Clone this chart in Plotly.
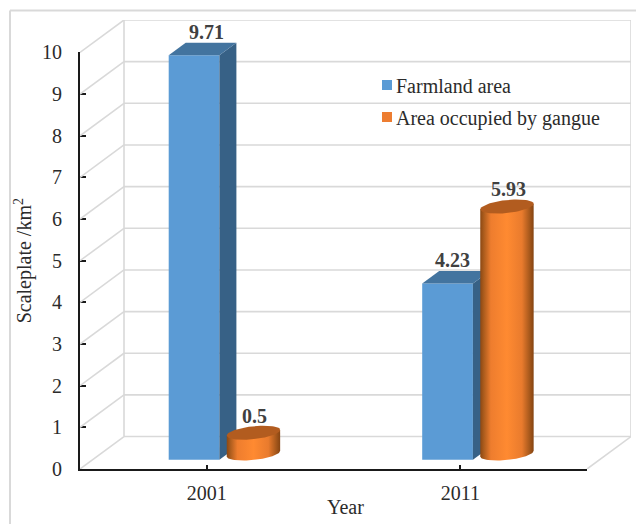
import numpy as np
import plotly.graph_objects as go

# Chart data
years = ["2001", "2011"]
farmland_area = [9.71, 4.23]
gangue_area = [0.5, 5.93]
y_ticks = [0, 1, 2, 3, 4, 5, 6, 7, 8, 9, 10]

FONT = "Liberation Serif, Times New Roman, serif"
TEXT = "#2B2B2B"
LABEL = "#404040"
GRID = "#D9D9D9"
AXIS = "#1A1A1A"
BLUE_FRONT = "#5B9BD5"
BLUE_SIDE = "#376186"
BLUE_TOP = "#43749F"
ORANGE_TOP = "#B25C1F"
ORANGE_SWATCH = "#ED7D31"
CYL_RAMP = [
    [0.0, "#8C4813"], [0.06, "#A85A1C"], [0.2, "#EE7D2E"], [0.5, "#FF8A31"],
    [0.78, "#E97B2D"], [0.92, "#A8591C"], [1.0, "#854412"],
]

W, H = 636, 524
X0, X1, Y0, Y1 = 80, 587, 469.5, 52   # pixel box of the front axis plane
BACK_DX, BACK_DY = 44, 32.5           # pixel depth of the chart box
PX = (X1 - X0) / 2                    # pixels per category
PY = (Y0 - Y1) / 10                   # pixels per value unit
WALL_DX = BACK_DX / PX
WALL_DY = BACK_DY / PY

positions = np.arange(len(years), dtype=float)
BOX_LEFT, BOX_RIGHT, BOX_TOP = -0.5, 1.5, 10

# Plot area spans the front plane plus the depth of the box
AREA_W = X1 + BACK_DX - X0
AREA_H = Y0 - (Y1 - BACK_DY)
DOMAIN_X = [0, (X1 - X0) / AREA_W]
DOMAIN_Y = [0, (Y0 - Y1) / AREA_H]


def paper_x(px):
    return (px - X0) / AREA_W


def paper_y(py):
    return (Y0 - py) / AREA_H


# Bars stand slightly inside the floor of the box
BAR_WIDTH = 50.7 / PX
BAR_SHIFT = -12.7 / PX
BAR_BASE = 9.2 / PY
BAR_DX = 17 / PX
BAR_DY = 12.6 / PY

# Cylinders
CYL_SHIFT = 46.7 / PX
CYL_RX = 26.7 / PX
CYL_RY = 6.5 / PY
CYL_TILT = 2.8 / PY
CYL_BASE = 15.5 / PY

LABEL_RISE = 0.78


def segments(pairs):
    xs, ys = [], []
    for (xa, ya), (xb, yb) in pairs:
        xs += [xa, xb, None]
        ys += [ya, yb, None]
    return xs, ys


fig = go.Figure()

# Legend entries live on the primary axes, which also carry the ticks and titles
for name, colour in [("Farmland area", BLUE_FRONT), ("Area occupied by gangue", ORANGE_SWATCH)]:
    fig.add_trace(go.Scatter(x=[None], y=[None], mode="markers", name=name, legendgroup=name,
                             marker=dict(symbol="square", size=10, color=colour, angle=90, standoff=11)))

# Box walls and gridlines
grid_pairs = []
for v in y_ticks:
    grid_pairs.append(((BOX_LEFT, v), (BOX_LEFT + WALL_DX, v + WALL_DY)))
    grid_pairs.append(((BOX_LEFT + WALL_DX, v + WALL_DY), (BOX_RIGHT + WALL_DX, v + WALL_DY)))
grid_pairs.append(((BOX_LEFT + WALL_DX, WALL_DY), (BOX_LEFT + WALL_DX, BOX_TOP + WALL_DY)))
grid_pairs.append(((BOX_RIGHT + WALL_DX, WALL_DY), (BOX_RIGHT + WALL_DX, BOX_TOP + WALL_DY)))
grid_pairs.append(((BOX_RIGHT, 0), (BOX_RIGHT + WALL_DX, WALL_DY)))
gx, gy = segments(grid_pairs)
fig.add_trace(go.Scatter(x=gx, y=gy, mode="lines", line=dict(color=GRID, width=1.6),
                         xaxis="x2", yaxis="y2", cliponaxis=False, hoverinfo="skip", showlegend=False))

# Square farmland columns, front face from the bar trace
bar_x = positions + BAR_SHIFT
fig.add_trace(go.Bar(x=bar_x, y=farmland_area, base=[BAR_BASE] * len(years), width=BAR_WIDTH,
                     marker=dict(color=BLUE_FRONT, line=dict(width=0)), cliponaxis=False,
                     xaxis="x3", yaxis="y3", hoverinfo="skip", showlegend=False))

for cx, value in zip(bar_x, farmland_area):
    left, right = cx - BAR_WIDTH / 2, cx + BAR_WIDTH / 2
    top = BAR_BASE + value
    fig.add_trace(go.Scatter(
        x=[right, right + BAR_DX, right + BAR_DX, right, right],
        y=[BAR_BASE, BAR_BASE + BAR_DY, top + BAR_DY, top, BAR_BASE],
        mode="lines", fill="toself", fillcolor=BLUE_SIDE, line=dict(width=0),
        cliponaxis=False, xaxis="x3", yaxis="y3", hoverinfo="skip", showlegend=False))
    fig.add_trace(go.Scatter(
        x=[left, left + BAR_DX, right + BAR_DX, right, left],
        y=[top, top + BAR_DY, top + BAR_DY, top, top],
        mode="lines", fill="toself", fillcolor=BLUE_TOP, line=dict(width=0),
        cliponaxis=False, xaxis="x3", yaxis="y3", hoverinfo="skip", showlegend=False))

# Gangue cylinders: shaded body plus a slanted elliptical cap
angle = np.linspace(0, 2 * np.pi, 73)
lower = np.linspace(0, np.pi, 37)
for pos, value in zip(positions, gangue_area):
    cx = pos + CYL_SHIFT
    top = CYL_BASE + value
    arc_x = cx + CYL_RX * np.cos(lower)
    arc_y = CYL_BASE + CYL_TILT * np.cos(lower) - CYL_RY * np.sin(lower)
    body_x = np.concatenate([arc_x, [cx - CYL_RX, cx + CYL_RX, cx + CYL_RX]])
    body_y = np.concatenate([arc_y, [top - CYL_TILT, top + CYL_TILT, CYL_BASE + CYL_TILT]])
    fig.add_trace(go.Scatter(
        x=body_x, y=body_y, mode="lines", fill="toself", line=dict(width=0),
        fillgradient=dict(type="horizontal", colorscale=CYL_RAMP),
        cliponaxis=False, xaxis="x3", yaxis="y3", hoverinfo="skip", showlegend=False))
    fig.add_trace(go.Scatter(
        x=cx + CYL_RX * np.cos(angle),
        y=top + CYL_TILT * np.cos(angle) + CYL_RY * np.sin(angle),
        mode="lines", fill="toself", fillcolor=ORANGE_TOP, line=dict(width=0),
        cliponaxis=False, xaxis="x3", yaxis="y3", hoverinfo="skip", showlegend=False))

# Value labels above each column
label_font = dict(family=FONT, size=20, color=LABEL, weight="bold")
annotations = []
for pos, value, nudge in zip(positions, farmland_area, [0.0, -7.5 / PX]):
    annotations.append(dict(x=pos + nudge, y=value + LABEL_RISE, xref="x2", yref="y2", text=str(value),
                            showarrow=False, font=label_font, xanchor="center", yanchor="middle"))
for pos, value in zip(positions, gangue_area):
    annotations.append(dict(x=pos + 48 / PX, y=value + LABEL_RISE, xref="x2", yref="y2", text=str(value),
                            showarrow=False, font=label_font, xanchor="center", yanchor="middle"))
annotations.append(dict(x=paper_x(345.5), y=paper_y(508), xref="paper", yref="paper", text="Year",
                        showarrow=False, font=dict(family=FONT, size=20, color=TEXT),
                        xanchor="center", yanchor="middle"))

axis_common = dict(showgrid=False, zeroline=False, showline=True, linecolor=AXIS, linewidth=2,
                   ticks="inside", tickcolor=AXIS, tickwidth=1.5,
                   tickfont=dict(family=FONT, size=20, color=TEXT))
hidden_x = dict(range=[BOX_LEFT, BOX_LEFT + AREA_W / PX], visible=False)
hidden_y = dict(range=[0, AREA_H / PY], visible=False)

fig.update_layout(
    width=W, height=H, autosize=False,
    margin=dict(l=X0, r=W - X0 - AREA_W, t=Y0 - AREA_H, b=H - Y0, pad=0),
    paper_bgcolor="white", plot_bgcolor="rgba(0,0,0,0)",
    barmode="overlay",
    xaxis=dict(domain=DOMAIN_X, range=[BOX_LEFT, BOX_RIGHT], tickvals=[0, 1], ticktext=years,
               ticklen=4, ticklabelstandoff=5,
               minor=dict(tickvals=[BOX_RIGHT], ticks="inside", ticklen=4, tickcolor=AXIS,
                          tickwidth=1.5, showgrid=False),
               **axis_common),
    yaxis=dict(domain=DOMAIN_Y, range=[0, BOX_TOP], tickvals=y_ticks, ticklen=6, ticklabelstandoff=12,
               title=dict(text="Scaleplate /km<sup>2</sup>", standoff=5,
                          font=dict(family=FONT, size=20, color=TEXT)), **axis_common),
    xaxis2=dict(domain=[0, 1], anchor="y2", **hidden_x),
    yaxis2=dict(domain=[0, 1], anchor="x2", **hidden_y),
    xaxis3=dict(overlaying="x2", anchor="y3", **hidden_x),
    yaxis3=dict(overlaying="y2", anchor="x3", **hidden_y),
    legend=dict(x=paper_x(356), y=paper_y(65), xanchor="left", yanchor="top", xref="paper", yref="paper",
                font=dict(family=FONT, size=20, color=TEXT), bgcolor="rgba(0,0,0,0)",
                tracegroupgap=3, borderwidth=0),
    annotations=annotations,
    shapes=[
        dict(type="line", xref="paper", yref="paper", x0=paper_x(10), x1=paper_x(10),
             y0=paper_y(10), y1=paper_y(560), line=dict(color=GRID, width=2), layer="below"),
        dict(type="line", xref="paper", yref="paper", x0=paper_x(10), x1=paper_x(660),
             y0=paper_y(10), y1=paper_y(10), line=dict(color=GRID, width=2), layer="below"),
    ],
)

fig.write_html("out.html", config=dict(displayModeBar=False))
